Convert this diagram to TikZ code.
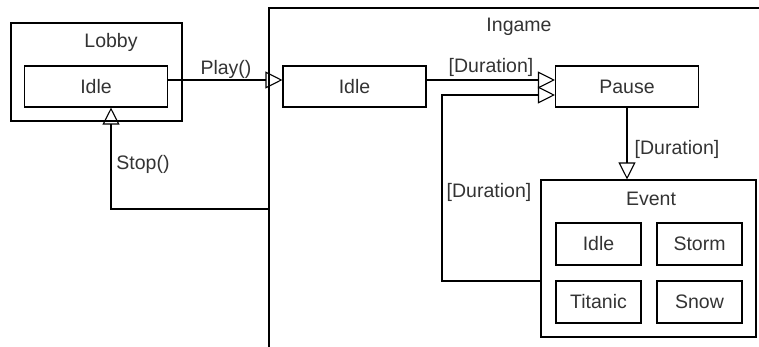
\documentclass[tikz,border=0pt]{standalone}
\usepackage{fontspec}
\setmainfont{Liberation Sans}
\usetikzlibrary{arrows.meta, positioning}

\begin{document}
\begin{tikzpicture}[x=1pt, y=-1pt, >={Triangle[open, length=17pt, width=17pt]},
    line width=1.1pt, font=\fontsize{19.5}{22}\selectfont, text=black!80]
    \tikzstyle{state} = [draw, minimum width=143pt, minimum height=41pt, inner sep=0pt]
    \tikzstyle{sub} = [draw, minimum width=85pt, minimum height=42pt, inner sep=0pt]
    \tikzstyle{group} = [draw, inner sep=0pt]
    \tikzstyle{lbl} = [inner sep=0pt]

    \useasboundingbox (0,0) rectangle (759,347);

    % ingame frame, runs off the page
    \draw (269,347) -- (269,8) -- (759,8);
    \node[lbl] (ingame) at (519,27) {Ingame};

    % lobby
    \node[group, minimum width=171pt, minimum height=98pt] (lobby) at (96.5,72) {};
    \node[lbl] (lobbyname) at (111,42) {Lobby};
    \node[state] (lidle) at (96,86.5) {Idle};

    % ingame states
    \node[state] (iidle) at (354.5,86.5) {Idle};
    \node[state] (pause) at (627,86.5) {Pause};

    \node[group, minimum width=215pt, minimum height=157pt] (event) at (648.5,258.5) {};
    \node[lbl] (eventname) at (651,199) {Event};
    \node[sub] (eidle) at (598.5,244) {Idle};
    \node[sub] (storm) at (699.5,244) {Storm};
    \node[sub] (titanic) at (598.5,302) {Titanic};
    \node[sub] (snow) at (699.5,302) {Snow};

    \coordinate (stopfrom) at (269,209);
    \coordinate (back) at (442,95);

    % transitions
    \draw[->] ([yshift=6.5pt]lidle.east) -- ([yshift=6.5pt]iidle.west);
    \draw[->] (stopfrom) -| ([xshift=15pt]lidle.south);
    \draw[->] ([yshift=6.5pt]iidle.east) -- ([yshift=6.5pt]pause.west);
    \draw[->] (pause.south) -- (pause.south |- event.north);
    \draw[->] ([yshift=-22.5pt]event.west) -| (back) -- ([yshift=-8.5pt]pause.west);

    \node[lbl] (play) at (226,69) {Play()};
    \node[lbl] (stop) at (143,164) {Stop()};
    \node[lbl] (dur1) at (491,67) {[Duration]};
    \node[lbl] (dur2) at (677,149) {[Duration]};
    \node[lbl] (dur3) at (489,192) {[Duration]};
\end{tikzpicture}
\end{document}
